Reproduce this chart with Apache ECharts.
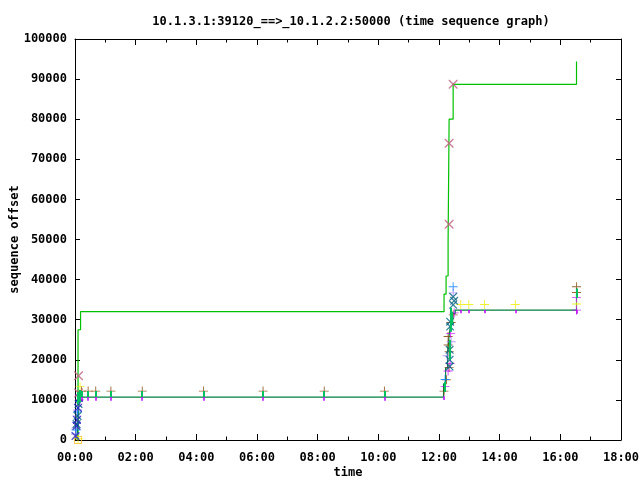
<!DOCTYPE html>
<html><head><meta charset="utf-8">
<script src="https://cdn.jsdelivr.net/npm/echarts@6/dist/echarts.min.js"></script>
<style>html,body{margin:0;padding:0;background:#fff}#c{width:640px;height:480px}</style>
</head><body><div id="c"></div>
<script>
// time in seconds, sequence offset in bytes
const titleText = '10.1.3.1:39120_==>_10.1.2.2:50000 (time sequence graph)';
const xName = 'time';
const yName = 'sequence offset';
const xMin = 0, xMax = 1080, xStep = 120;
const yMin = 0, yMax = 100000, yStep = 10000;

// advertised window line (step)
const winLine = [[6,0],[6,27500],[11,32000],[730,36400],[734,40900],[738,49600],[740,80000],[748,88700],[992,94400]];
// ack line (step)
const ackLine = [[4,0],[5,3000],[6,6000],[7,8500],[8,10700],[729,14000],[733,18000],[737,22000],[740,26000],[743,29000],[747,31500],[752,32400],[992,37900]];

const brownPlus = [[13,12200],[26,12200],[41,12200],[71,12200],[133,12200],[254,12200],[372,12200],[493,12200],[612,12200],
  [730,12200],[735,15000],[740,18100],[740,22000],[738,23700],[738,25800],[744,29300],[748,31200],[992,38200],[992,36800]];
const yellowPlus = [[10,13300],[6,300],[763,33800],[779,33800],[810,33800],[871,33800],[992,33900]];
const magentaPlus = [[9,10000],[750,31700],[743,26600],[742,19100],[738,17200],[732,13300],[992,35500],[992,32400]];
const purplePlus = [[1,1500],[2,3000],[3,4500],[4,6000],[5,7500],[6,9000],[748,36700],[744,24500],[736,21000]];
const bluePlus = [[2,2500],[5,7000],[732,15100],[748,38200]];
const tealX = [[3,4000],[5,6000],[7,9000],[748,35700],[750,34700],[748,33700],[742,29500],[742,28300],[741,22500],[741,20000],[741,18300]];
const blueX = [[1,1000],[3,3500],[4,5000],[6,8000],[8,10500]];
const pinkX = [[7,16000],[7,11700],[740,53800],[740,74000],[748,88700]];
const orangeSq = [[6,0]];

// vertical segments [t, low, high]
const sentSeg = [[13,10700,12200],[26,10700,12200],[41,10700,12200],[71,10700,12200],[133,10700,12200],[254,10700,12200],
  [372,10700,12200],[493,10700,12200],[612,10700,12200],[6,9000,12000],[9,9500,12500],
  [741,20000,25000],[743,27000,33000],[746,29000,32000],[993,35400,37800],[732,12000,14500]];
const tickSeg = [[13,9800,10700],[26,9800,10700],[41,9800,10700],[71,9800,10700],[133,9800,10700],[254,9800,10700],
  [372,9800,10700],[493,9800,10700],[612,9800,10700],[763,31600,32400],[779,31600,32400],[810,31600,32400],[871,31600,32400],
  [992,31500,32400],[730,10000,10900]];

const FONT = 'DejaVu Sans Mono';
const PLUS = 'path://M0,4.5H10V5.5H0Z M4.5,0H5.5V10H4.5Z';
const CROSS = 'path://M0,0L1,0L9,8L9,9L8,9L0,1Z M8,0L9,0L9,1L1,9L0,9L0,8Z';

function pad(n){return (n<10?'0':'')+n;}
function fmt(v){return pad(Math.floor(v/60))+':'+pad(Math.round(v%60));}

function scat(data, sym, color, size){
  return {type:'scatter', data:data, symbol:sym, symbolSize:size||9, itemStyle:{color:color}, silent:true, z:3, animation:false};
}
function segs(arr, color, w){
  return {type:'lines', coordinateSystem:'cartesian2d', polyline:false, silent:true, animation:false, z:4,
    lineStyle:{color:color, width:w, opacity:1},
    data: arr.map(s => ({coords:[[s[0],s[1]],[s[0],s[2]]]}))};
}

const axisCommon = {
  axisLine:{onZero:false, lineStyle:{color:'#000', width:1}},
  splitLine:{show:false}
};
const chart = echarts.init(document.getElementById('c'), null, {renderer:'canvas'});
chart.setOption({
  animation:false,
  backgroundColor:'#fff',
  title:{text:titleText, left:346, top:11, textAlign:'center',
    textStyle:{fontFamily:FONT, fontSize:12, fontWeight:'bold', color:'#000'}},
  grid:{left:75, right:19, top:39, bottom:40, containLabel:false, outerBoundsMode:'none'},
  xAxis:[
    Object.assign({type:'value', position:'bottom', min:xMin, max:xMax, interval:xStep,
      name:xName, nameLocation:'middle', nameGap:27, nameMoveOverlap:false,
      nameTextStyle:{fontFamily:FONT, fontSize:12, fontWeight:'bold', color:'#000'},
      axisTick:{inside:true, length:6, lineStyle:{color:'#000'}},
      minorTick:{show:true, splitNumber:2, length:3.5, lineStyle:{color:'#000'}},
      axisLabel:{formatter:fmt, margin:12, fontFamily:FONT, fontSize:12, fontWeight:'bold', color:'#000'}}, axisCommon),
    Object.assign({type:'value', position:'top', min:xMin, max:xMax, interval:xStep,
      axisTick:{inside:true, length:6, lineStyle:{color:'#000'}},
      minorTick:{show:true, splitNumber:2, length:3.5, lineStyle:{color:'#000'}},
      axisLabel:{show:false}}, axisCommon)
  ],
  yAxis:[
    Object.assign({type:'value', position:'left', min:yMin, max:yMax, interval:yStep,
      name:yName, nameLocation:'middle', nameGap:54, nameRotate:90, nameMoveOverlap:false,
      nameTextStyle:{fontFamily:FONT, fontSize:12, fontWeight:'bold', color:'#000'},
      axisTick:{inside:true, length:5, lineStyle:{color:'#000'}},
      axisLabel:{formatter:v => String(v), margin:8, fontFamily:FONT, fontSize:12, fontWeight:'bold', color:'#000'}}, axisCommon),
    Object.assign({type:'value', position:'right', min:yMin, max:yMax, interval:yStep,
      axisTick:{inside:true, length:5, lineStyle:{color:'#000'}},
      axisLabel:{show:false}}, axisCommon)
  ],
  series:[
    {type:'line', data:winLine, step:'end', showSymbol:false, symbol:'none', lineStyle:{color:'#00c000', width:1.2}, z:2, silent:true},
    {type:'line', data:ackLine, step:'end', showSymbol:false, symbol:'none', lineStyle:{color:'#008040', width:1.2}, z:2, silent:true},
    segs(sentSeg, '#00c060', 2),
    segs(tickSeg, '#c000ff', 1.5),
    scat(orangeSq, 'path://M0,0H8V8H0Z M1,1V7H7V1Z', '#ffc020', 8),
    scat(yellowPlus, PLUS, '#eeee00'),
    scat(brownPlus, PLUS, '#804000'),
    scat(magentaPlus, PLUS, '#c000ff'),
    scat(purplePlus, PLUS, '#a080ff'),
    scat(bluePlus, PLUS, '#0080ff'),
    scat(tealX, CROSS, '#006080', 8),
    scat(blueX, CROSS, '#2020c0', 8),
    scat(pinkX, CROSS, '#c06080', 9)
  ]
});
</script></body></html>
